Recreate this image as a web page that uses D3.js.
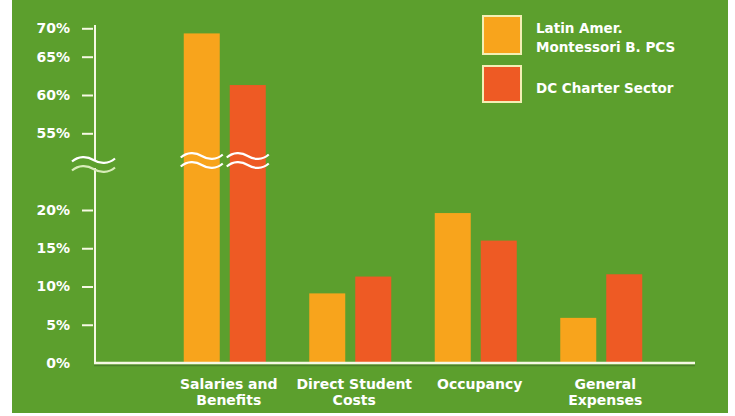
<!DOCTYPE html>
<html>
<head>
<meta charset="utf-8">
<script src="https://cdn.jsdelivr.net/npm/d3@7"></script>
<style>
  html, body { margin: 0; padding: 0; background: #ffffff; }
  svg { display: block; }
  text { font-family: "DejaVu Sans", sans-serif; font-weight: bold; fill: #ffffff; }
</style>
</head>
<body>
<svg id="chart" width="735" height="416"></svg>
<script>
// Expense categories, each split over two label lines
const categories = ["Salaries and Benefits", "Direct Student Costs", "Occupancy", "General Expenses"];
const categoryLines = [["Salaries and", "Benefits"], ["Direct Student", "Costs"], ["Occupancy"], ["General", "Expenses"]];

// Series and their share of spending (%)
const seriesNames = ["Latin Amer. Montessori B. PCS", "DC Charter Sector"];
const seriesLegendLines = [["Latin Amer.", "Montessori B. PCS"], ["DC Charter Sector"]];
const latinValues = [69.1, 9.1, 19.6, 5.9];
const dcValues = [61.3, 11.3, 16.0, 11.6];

// Tick values on either side of the axis break
const lowerTicks = [0, 5, 10, 15, 20];
const upperTicks = [55, 60, 65, 70];

const colors = { green: "#5c9f2d", latin: "#f8a41c", dc: "#ee5a24", axis: "#f6f8e4" };

const svg = d3.select("#chart");

// backdrop panel
svg.append("rect").attr("x", 12).attr("y", 0).attr("width", 716).attr("height", 413).attr("fill", colors.green);

const axisX = 95, axisY = 363, axisRight = 695;

// broken y scale: linear lower segment, upper segment above the break
const yLow = d3.scaleLinear().domain([0, 20]).range([axisY, 210]);
const yHigh = d3.scaleLinear().domain(upperTicks).range([133.3, 95, 56.7, 28.3]);
const yVal = v => (v <= 20 ? yLow(v) : yHigh(v));

const x = d3.scaleBand().domain(categories).range([162, 664]).padding(0);
const xs = d3.scaleBand().domain(seriesNames)
  .range([x.bandwidth() / 2 - 41, x.bandwidth() / 2 + 41]).paddingInner(10 / 46);

const rows = categories.map((c, i) => ({ cat: c, vals: [latinValues[i], dcValues[i]] }));
const seriesColor = d3.scaleOrdinal().domain(seriesNames).range([colors.latin, colors.dc]);

// bars
const groups = svg.append("g").selectAll("g").data(rows).join("g")
  .attr("transform", d => `translate(${x(d.cat)},0)`);
groups.selectAll("rect").data(d => d.vals.map((v, j) => ({ s: seriesNames[j], v })))
  .join("rect")
  .attr("x", d => xs(d.s))
  .attr("width", xs.bandwidth())
  .attr("y", d => yVal(d.v))
  .attr("height", d => axisY - yVal(d.v))
  .attr("fill", d => seriesColor(d.s));

// wavy break marks
function wave(x0, w, y) {
  const p = d3.path();
  p.moveTo(x0, y + 1.5);
  p.bezierCurveTo(x0 + w * 0.15, y - 4, x0 + w * 0.35, y - 4, x0 + w * 0.5, y);
  p.bezierCurveTo(x0 + w * 0.65, y + 4, x0 + w * 0.85, y + 4, x0 + w, y - 1.5);
  return p.toString();
}
groups.each(function (d) {
  const g = d3.select(this);
  d.vals.forEach((v, j) => {
    if (v > 20) {
      const bx = xs(seriesNames[j]);
      [156, 165].forEach(wy => {
        g.append("path").attr("d", wave(bx - 3, xs.bandwidth() + 6, wy))
          .attr("fill", "none").attr("stroke", "#ffffff").attr("stroke-width", 2.2);
      });
    }
  });
});

// y axis line
svg.append("line").attr("x1", axisX).attr("x2", axisX).attr("y1", 25).attr("y2", axisY + 1)
  .attr("stroke", colors.axis).attr("stroke-width", 2);

// axis break on the y axis
svg.append("rect").attr("x", axisX - 3).attr("y", 161).attr("width", 6).attr("height", 7).attr("fill", colors.green);
svg.append("path").attr("d", wave(72, 43, 160)).attr("fill", "none").attr("stroke", "#ffffff").attr("stroke-width", 2.2);
svg.append("path").attr("d", wave(72, 43, 169)).attr("fill", "none").attr("stroke", "#d8ecb8").attr("stroke-width", 2.2);

function styleAxis(g) {
  g.select(".domain").remove();
  g.selectAll(".tick line").attr("stroke", colors.axis).attr("stroke-width", 2);
  g.selectAll(".tick text").style("font-size", "14px").attr("fill", "#ffffff")
    .style("font-family", "'DejaVu Sans', sans-serif").style("font-weight", "bold");
}
svg.append("g").attr("transform", `translate(${axisX - 2},0)`)
  .call(d3.axisLeft(yLow).tickValues(lowerTicks).tickFormat(d => d + "%").tickSize(11).tickPadding(12))
  .call(styleAxis)
  .call(g => g.selectAll(".tick").filter(d => d === 0).select("line").remove());
svg.append("g").attr("transform", `translate(${axisX - 2},0)`)
  .call(d3.axisLeft(yHigh).tickValues(upperTicks).tickFormat(d => d + "%").tickSize(11).tickPadding(12))
  .call(styleAxis);

// x axis baseline
svg.append("line").attr("x1", axisX - 1).attr("x2", axisRight).attr("y1", axisY + 2.5).attr("y2", axisY + 2.5)
  .attr("stroke", "#4a7f2a").attr("stroke-width", 1.5);
svg.append("line").attr("x1", axisX - 1).attr("x2", axisRight).attr("y1", axisY).attr("y2", axisY)
  .attr("stroke", colors.axis).attr("stroke-width", 2.5);

// category labels
svg.append("g").selectAll("text").data(categories).join("text")
  .attr("text-anchor", "middle")
  .attr("x", d => x(d) + x.bandwidth() / 2 + 4)
  .attr("y", 389)
  .style("font-size", "14px")
  .each(function (d, i) {
    d3.select(this).selectAll("tspan").data(categoryLines[i]).join("tspan")
      .attr("x", x(d) + x.bandwidth() / 2 + 4)
      .attr("dy", (t, k) => (k === 0 ? 0 : 16))
      .text(t => t);
  });

// legend
const legend = svg.append("g").attr("transform", "translate(482,15)");
const legendRows = [{ y: 0, h: 40, baselines: [18, 37] }, { y: 50, h: 38, baselines: [78] }];
seriesNames.forEach((s, i) => {
  legend.append("rect").attr("x", 1).attr("y", legendRows[i].y + 1)
    .attr("width", 38).attr("height", legendRows[i].h - 2)
    .attr("fill", seriesColor(s)).attr("stroke", "#f3efb4").attr("stroke-width", 2);
  seriesLegendLines[i].forEach((line, k) => {
    legend.append("text").attr("x", 54).attr("y", legendRows[i].baselines[k])
      .style("font-size", "13.5px").text(line);
  });
});
</script>
</body>
</html>
